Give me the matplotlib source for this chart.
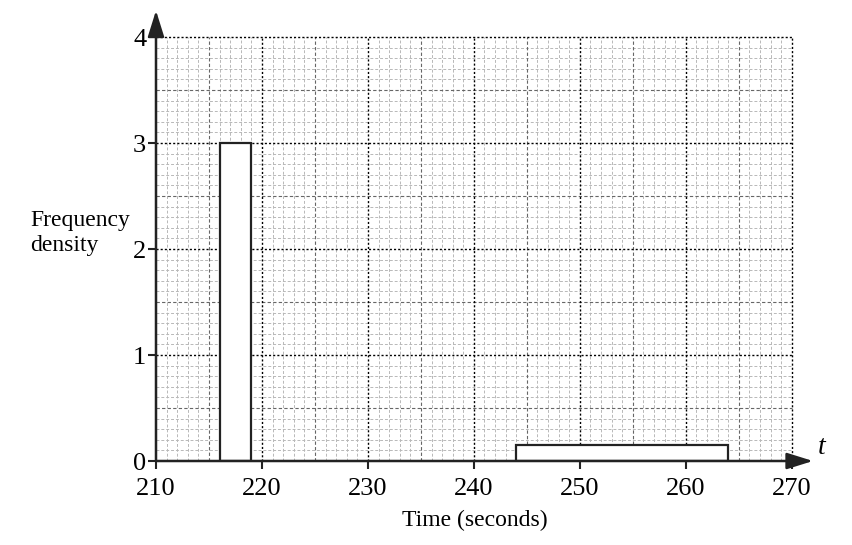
import matplotlib
matplotlib.use("Agg")
import matplotlib.pyplot as plt
import numpy as np

# Data
bar_left = [216, 244]
bar_width = [3, 20]
bar_height = [3, 0.15]
x_ticks = [210, 220, 230, 240, 250, 260, 270]
y_ticks = [0, 1, 2, 3, 4]

plt.rcParams['font.family'] = ['Liberation Serif', 'DejaVu Serif']

fig = plt.figure(figsize=(8.53, 5.45), dpi=100)
W, H = 853, 545
ax = fig.add_axes([156 / W, 84 / H, 657 / W, 450.5 / H])
ax.set_xlim(210, 272)
ax.set_ylim(0, 4.25)

# grid
for xv in np.arange(210, 270.01, 1):
    xi = int(round(xv))
    if xi % 10 == 0:
        if xi == 210:
            continue
        ax.plot([xv, xv], [0, 4], color='black', lw=1.0, ls=(0, (1.5, 1.5)), zorder=2)
    elif xi % 5 == 0:
        ax.plot([xv, xv], [0, 4], color='#666666', lw=0.8, ls=(0, (3, 2)), zorder=1.5)
    else:
        ax.plot([xv, xv], [0, 4], color='#b8b8b8', lw=0.7, ls=(0, (3, 2)), zorder=1)
for i in range(0, 41):
    yv = i / 10
    if i == 0:
        continue
    if i % 10 == 0:
        ax.plot([210, 270], [yv, yv], color='black', lw=1.0, ls=(0, (1.5, 1.5)), zorder=2)
    elif i % 5 == 0:
        ax.plot([210, 270], [yv, yv], color='#666666', lw=0.8, ls=(0, (3, 2)), zorder=1.5)
    else:
        ax.plot([210, 270], [yv, yv], color='#b8b8b8', lw=0.7, ls=(0, (3, 2)), zorder=1)

# bars
ax.bar(bar_left, bar_height, width=bar_width, align='edge', facecolor='white',
       edgecolor='#222222', linewidth=1.6, zorder=3)

# axes
for s in ax.spines.values():
    s.set_visible(False)
ax.annotate('', xy=(272, 0), xytext=(210, 0),
            arrowprops=dict(arrowstyle='-|>,head_length=1.6,head_width=0.5', color='#222222',
                            lw=1.8, shrinkA=0, shrinkB=0), zorder=4, annotation_clip=False)
ax.annotate('', xy=(210, 4.25), xytext=(210, 0),
            arrowprops=dict(arrowstyle='-|>,head_length=1.6,head_width=0.5', color='#222222',
                            lw=1.8, shrinkA=0, shrinkB=0), zorder=4, annotation_clip=False)

ax.set_xticks(x_ticks)
ax.set_yticks(y_ticks)
ax.set_xticklabels([str(v) for v in x_ticks])
ax.set_yticklabels([str(v) for v in y_ticks])
ax.tick_params(axis='both', direction='out', length=6, width=1.5, color='#222222',
               labelsize=19, pad=1)
ax.tick_params(axis='x', pad=6)

fig.text(822 / W, 98 / H, 't', fontsize=20, style='italic', ha='center', va='center')
fig.text(475 / W, 25 / H, 'Time (seconds)', fontsize=17, ha='center', va='center')
fig.text(30 / W, 312 / H, 'Frequency\ndensity', fontsize=17, ha='left', va='center',
         linespacing=1.3)

fig.savefig('out.png', dpi=100)
